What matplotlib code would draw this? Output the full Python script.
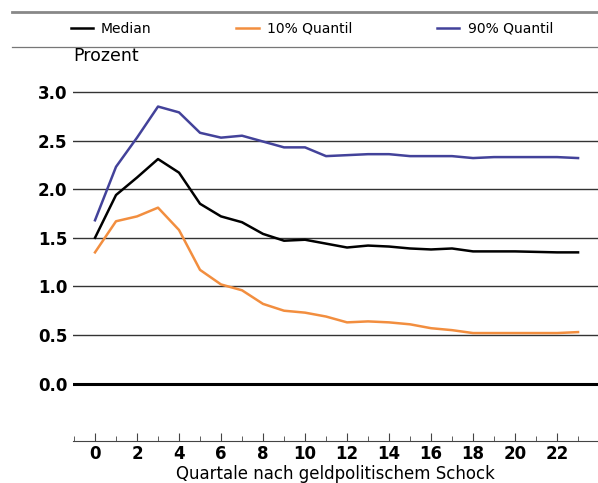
import matplotlib.pyplot as plt
from matplotlib.lines import Line2D

quarters = list(range(24))
median = [1.50, 1.94, 2.12, 2.31, 2.17, 1.85, 1.72, 1.66, 1.54, 1.47, 1.48, 1.44,
          1.40, 1.42, 1.41, 1.39, 1.38, 1.39, 1.36, 1.36, 1.36, 1.355, 1.35, 1.35]
q10 = [1.35, 1.67, 1.72, 1.81, 1.58, 1.17, 1.02, 0.96, 0.82, 0.75, 0.73, 0.69,
       0.63, 0.64, 0.63, 0.61, 0.57, 0.55, 0.52, 0.52, 0.52, 0.52, 0.52, 0.53]
q90 = [1.68, 2.23, 2.53, 2.85, 2.79, 2.58, 2.53, 2.55, 2.49, 2.43, 2.43, 2.34,
       2.35, 2.36, 2.36, 2.34, 2.34, 2.34, 2.32, 2.33, 2.33, 2.33, 2.33, 2.32]
yticks = [0.0, 0.5, 1.0, 1.5, 2.0, 2.5, 3.0]

fig = plt.figure(figsize=(5.98, 4.83), dpi=100)
ax = fig.add_axes([0.122, 0.087, 0.878, 0.783])

for v in yticks[1:]:
    ax.axhline(v, color='#333333', lw=1.0, zorder=1)
ax.axhline(0, color='black', lw=2.2, zorder=1)

ax.plot(quarters, median, color='black', lw=1.8, label='Median', zorder=3)
ax.plot(quarters, q10, color='#F28E3F', lw=1.8, label='10% Quantil', zorder=3)
ax.plot(quarters, q90, color='#43429A', lw=1.8, label='90% Quantil', zorder=3)

ax.set_xlim(-1.05, 23.95)
ax.set_ylim(-0.59, 3.3)
for s in ['top', 'right', 'left']:
    ax.spines[s].set_visible(False)
ax.spines['bottom'].set_color('#444444')
ax.set_xticks(range(0, 23, 2))
ax.set_xticks(range(-1, 24, 2), minor=True)
ax.tick_params(axis='x', which='major', direction='in', length=6, color='#444444',
               labelsize=12, pad=3)
ax.tick_params(axis='x', which='minor', direction='in', length=3.5, color='#444444')
for lab in ax.get_xticklabels():
    lab.set_fontweight('bold')
ax.set_yticks(yticks)
ax.set_yticklabels(['%.1f' % v for v in yticks], fontweight='bold', fontsize=12)
ax.tick_params(axis='y', length=0, pad=4)
ax.set_xlabel('Quartale nach geldpolitischem Schock', fontsize=12, labelpad=1)

fig.text(0.122, 1 - 56 / 483, 'Prozent', fontsize=12.5, va='center')
fig.add_artist(Line2D([0.02, 1.0], [1 - 12 / 483, 1 - 12 / 483], color='#888888', lw=2))
fig.add_artist(Line2D([0.02, 1.0], [1 - 47 / 483, 1 - 47 / 483], color='#777777', lw=0.9))

fig.legend(loc='center left', bbox_to_anchor=(0.118, 1 - 29 / 483), ncol=3, frameon=False,
           fontsize=10, handlelength=1.6, handletextpad=0.6, columnspacing=6.1,
           borderaxespad=0, borderpad=0)

plt.savefig('out.png', dpi=100)
